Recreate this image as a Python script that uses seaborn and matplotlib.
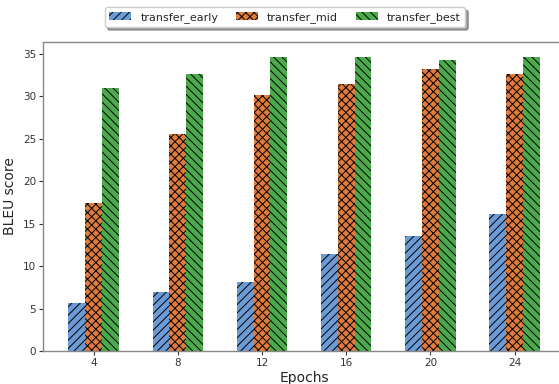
import pandas as pd
import seaborn as sns
import matplotlib.pyplot as plt
from matplotlib.patches import Patch

# values
epochs = [4, 8, 12, 16, 20, 24]
transfer_early = [5.6, 7.0, 8.1, 11.4, 13.6, 16.1]
transfer_mid = [17.5, 25.6, 30.2, 31.5, 33.2, 32.7]
transfer_best = [31.0, 32.7, 34.6, 34.6, 34.3, 34.7]

series = ['transfer_early', 'transfer_mid', 'transfer_best']
colors = ['#6b9bd6', '#e07b3b', '#4caa4c']
hatches = ['////', 'xxxx', '\\\\\\\\']

df = pd.DataFrame({
    'Epochs': epochs * 3,
    'BLEU score': transfer_early + transfer_mid + transfer_best,
    'run': [s for s in series for _ in epochs],
})

sns.set_style('white')
plt.rcParams['font.family'] = ['DejaVu Sans']
plt.rcParams['hatch.linewidth'] = 0.7

fig = plt.figure(figsize=(5.59, 3.84), dpi=100)
ax = fig.add_axes([0.077, 0.086, 0.934, 0.805])

sns.barplot(data=df, x='Epochs', y='BLEU score', hue='run', hue_order=series,
            palette=colors, saturation=1, width=0.6, errorbar=None,
            legend=False, ax=ax)

# hatch each container, black hatch lines with no visible edge
for cont, h in zip(ax.containers, hatches):
    for p in cont.patches:
        p.set_hatch(h)
        p.set_edgecolor('black')
        p.set_linewidth(0)

ax.set_xlim(-0.6, 5.6)
ax.set_xlabel('Epochs', fontsize=10, labelpad=2)
ax.set_ylabel('BLEU score', fontsize=10)
ax.tick_params(axis='both', labelsize=7.5, colors='#333333', length=3,
               width=0.8, bottom=True, left=True, pad=2)
for s in ax.spines.values():
    s.set_color('#888888')
    s.set_linewidth(1.0)

handles = [Patch(facecolor=c, hatch=h, edgecolor='black', linewidth=0, label=s)
           for c, h, s in zip(colors, hatches, series)]
fig.legend(handles=handles, loc='upper center', bbox_to_anchor=(0.51, 0.995),
           ncol=3, shadow=True, fontsize=8, frameon=True, handlelength=2,
           columnspacing=1.6)

fig.savefig('out.png', dpi=100)
